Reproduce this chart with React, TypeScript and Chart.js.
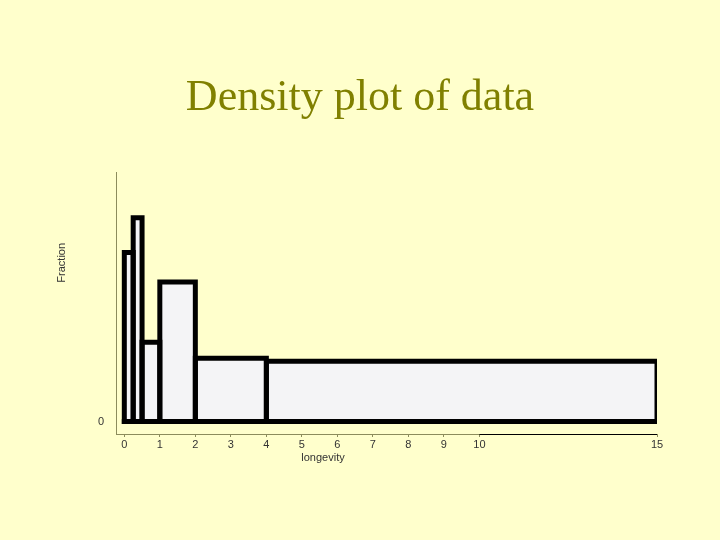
import React, { useEffect, useRef } from 'react';
import { Chart, registerables } from 'chart.js';

Chart.register(...registerables);

// Bin edges (longevity) and density heights
const binEdges = [0, 0.25, 0.5, 1, 2, 4, 15];
const density = [0.16, 0.193, 0.075, 0.132, 0.06, 0.057];
const xTickValues = [0, 1, 2, 3, 4, 5, 6, 7, 8, 9, 10, 15];
const yTickValues = [0];
const titleText = 'Density plot of data';
const xTitle = 'longevity';
const yTitle = 'Fraction';

const AXIS_COLOR = '#8c8c5c';
const LABEL_COLOR = '#333333';
const LABEL_FONT = { family: 'Liberation Sans, Arial, sans-serif', size: 11 };

export default function App() {
  const ref = useRef<HTMLCanvasElement>(null);

  useEffect(() => {
    document.body.style.margin = '0';
    const barStyle = {
      showLine: true,
      borderColor: '#000000',
      borderWidth: 5,
      borderJoinStyle: 'miter',
      borderCapStyle: 'square',
      pointRadius: 0,
      pointHoverRadius: 0,
      tension: 0,
    };
    const datasets: any[] = density.map((d, i) => ({
      ...barStyle,
      data: [
        { x: binEdges[i], y: 0 },
        { x: binEdges[i], y: d },
        { x: binEdges[i + 1], y: d },
        { x: binEdges[i + 1], y: 0 },
      ],
      fill: 'origin',
      backgroundColor: '#f4f4f6',
    }));
    // common bottom edge of the bins
    datasets.push({
      ...barStyle,
      data: [
        { x: binEdges[0], y: 0 },
        { x: binEdges[binEdges.length - 1], y: 0 },
      ],
      fill: false,
    });

    const axisExtras = {
      id: 'axisExtras',
      afterDraw(chart: any) {
        const { ctx, chartArea, scales } = chart;
        ctx.save();
        // black segment of the x axis (10 .. 15)
        ctx.strokeStyle = '#000000';
        ctx.lineWidth = 1;
        ctx.beginPath();
        const yb = Math.round(chartArea.bottom) + 0.5;
        ctx.moveTo(scales.x.getPixelForValue(10), yb);
        ctx.lineTo(scales.x.getPixelForValue(15), yb);
        ctx.stroke();
        // axis titles
        ctx.fillStyle = LABEL_COLOR;
        ctx.font = `${LABEL_FONT.size}px ${LABEL_FONT.family}`;
        ctx.textAlign = 'center';
        ctx.textBaseline = 'middle';
        ctx.fillText(xTitle, chartArea.left + 207, chartArea.bottom + 24);
        ctx.translate(chartArea.left - 54, chartArea.top + 90);
        ctx.rotate(-Math.PI / 2);
        ctx.fillText(yTitle, 0, 0);
        ctx.restore();
      },
    };

    const chart = new Chart(ref.current as HTMLCanvasElement, {
      type: 'scatter',
      data: { datasets },
      options: {
        animation: false,
        responsive: false,
        events: [],
        layout: { padding: { left: 63, right: 63, top: 0, bottom: 0 } },
        plugins: {
          legend: { display: false },
          tooltip: { enabled: false },
          filler: { drawTime: 'beforeDatasetsDraw' },
          title: {
            display: true,
            text: titleText,
            color: '#808000',
            font: { family: 'Liberation Serif, Times New Roman, serif', size: 44, weight: 'normal', lineHeight: 1.2 },
            padding: { top: 72, bottom: 48 },
          },
        },
        scales: {
          x: {
            type: 'linear',
            min: -0.234,
            max: 15,
            afterBuildTicks: (s: any) => {
              s.ticks = xTickValues.map((v) => ({ value: v }));
            },
            afterFit: (s: any) => {
              s.height = 106;
            },
            ticks: {
              autoSkip: false,
              maxRotation: 0,
              color: LABEL_COLOR,
              font: LABEL_FONT,
              padding: 1,
            },
            grid: { drawOnChartArea: false, drawTicks: true, tickLength: 3, color: AXIS_COLOR },
            border: { display: true, color: AXIS_COLOR, width: 1 },
          },
          y: {
            type: 'linear',
            min: -0.0118,
            max: 0.2355,
            afterBuildTicks: (s: any) => {
              s.ticks = yTickValues.map((v) => ({ value: v }));
            },
            afterFit: (s: any) => {
              s.width = 53;
            },
            ticks: { color: LABEL_COLOR, font: LABEL_FONT, padding: 12 },
            grid: { drawOnChartArea: false, drawTicks: false },
            border: { display: true, color: AXIS_COLOR, width: 1 },
          },
        },
      } as any,
      plugins: [axisExtras],
    });
    return () => chart.destroy();
  }, []);

  return (
    <div style={{ width: 720, height: 540, background: '#ffffcc' }}>
      <canvas ref={ref} width={720} height={540} style={{ display: 'block' }} />
    </div>
  );
}
